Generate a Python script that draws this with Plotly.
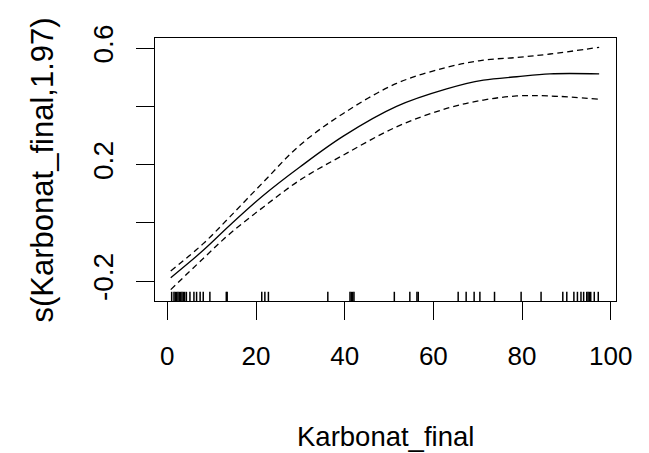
import plotly.graph_objects as go

# Smooth term s(Karbonat_final) with its +/- 2 SE band
x_fit = [0.77, 8.1, 14.1, 21.7, 29.9, 39.7, 51.7, 63.0, 71.3, 78.8, 86.3, 97.4]
fit = [-0.188, -0.094, -0.008, 0.095, 0.192, 0.298, 0.400, 0.460, 0.490, 0.502, 0.512, 0.512]
upper = [-0.165, -0.071, 0.021, 0.141, 0.267, 0.376, 0.479, 0.534, 0.559, 0.568, 0.580, 0.603]
lower = [-0.229, -0.122, -0.037, 0.055, 0.147, 0.233, 0.330, 0.393, 0.422, 0.436, 0.436, 0.425]

# Observed Karbonat_final values (rug)
rug_x = [0.98, 1.5, 1.8, 2.1, 2.4, 2.7, 3.0, 3.3, 3.6, 3.9, 4.3, 5.1, 6.0, 6.6, 7.4, 8.1, 9.6,
         13.3, 13.5, 21.3, 22.0, 22.8, 36.2, 41.2, 41.5, 41.8, 42.1, 51.2, 54.7, 56.3, 56.6,
         65.6, 67.4, 69.2, 70.5, 73.8, 79.8, 84.3, 89.2, 90.1, 91.7, 92.5, 93.3, 93.9,
         94.6, 94.9, 95.2, 95.5, 96.3, 97.2]

x_ticks = [0, 20, 40, 60, 80, 100]
y_ticks = [-0.2, 0.0, 0.2, 0.4, 0.6]
y_tick_text = ["-0.2", "", "0.2", "", "0.6"]

FONT = "Liberation Sans, Arial, sans-serif"

fig = go.Figure()
fig.add_trace(go.Scatter(x=x_fit, y=fit, mode="lines", line=dict(color="black", width=1.3, shape="spline")))
for band in (upper, lower):
    fig.add_trace(go.Scatter(x=x_fit, y=band, mode="lines",
                             line=dict(color="black", width=1.3, dash="6px,4px", shape="spline")))

for rx in rug_x:
    fig.add_shape(type="line", xref="x", yref="y domain", x0=rx, x1=rx, y0=0, y1=0.035,
                  line=dict(color="black", width=1.5))

fig.update_layout(
    width=649, height=453,
    margin=dict(l=155, r=33, t=38, b=152),
    paper_bgcolor="white", plot_bgcolor="white",
    showlegend=False,
    font=dict(family=FONT, size=26, color="black"),
    xaxis=dict(range=[-2.78, 101.2], tickvals=x_ticks, ticks="outside", ticklen=18,
               tickwidth=1, tickcolor="black", showline=True, linecolor="black", linewidth=1,
               mirror=True, showgrid=False, zeroline=False, ticklabelstandoff=14,
               tickfont=dict(size=26)),
    yaxis=dict(range=[-0.268, 0.635], tickvals=y_ticks, ticktext=y_tick_text, ticks="outside",
               ticklen=18, tickwidth=1, tickcolor="black", showline=True, linecolor="black",
               linewidth=1, mirror=True, showgrid=False, zeroline=False, tickangle=-90,
               ticklabelstandoff=12, tickfont=dict(size=28)),
    annotations=[
        dict(text="Karbonat_final", xref="paper", yref="paper", x=0.5, y=-0.517,
             xanchor="center", yanchor="middle", showarrow=False, font=dict(size=27.5)),
        dict(text="s(Karbonat_final,1.97)", xref="paper", yref="paper", x=-0.243, y=0.5,
             xanchor="center", yanchor="middle", textangle=-90, showarrow=False,
             font=dict(size=31)),
    ],
)

fig.write_html("out.html")
